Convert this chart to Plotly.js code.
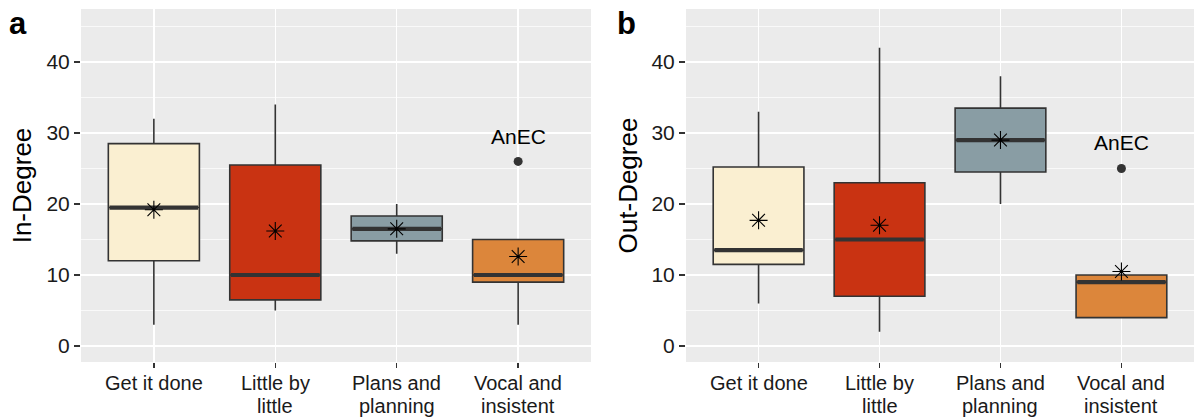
<!DOCTYPE html>
<html>
<head>
<meta charset="utf-8">
<script src="https://cdn.plot.ly/plotly-3.0.1.min.js"></script>
<style>html,body{margin:0;padding:0;background:#fff;}#chart{width:1194px;height:419px;}</style>
</head>
<body>
<div id="chart"></div>
<script>
// ---- data ----
const categories = ["Get it done", "Little by little", "Plans and planning", "Vocal and insistent"];
const tickLine1 = ["Get it done", "Little by", "Plans and", "Vocal and"];
const tickLine2 = ["", "little", "planning", "insistent"];
const colors = ["#FAEFD1", "#C93312", "#899DA4", "#DC863B"];

// In-Degree (panel a)
const inLower  = [3, 5, 13, 3];
const inQ1     = [12, 6.5, 14.8, 9];
const inMedian = [19.5, 10, 16.5, 10];
const inQ3     = [28.5, 25.5, 18.3, 15];
const inUpper  = [32, 34, 20, 15];
const inMean   = [19.2, 16.2, 16.5, 12.6];
const inOutlierCat = [3];
const inOutlierVal = [26];
const inLabel = "AnEC";
const inLabelY = 29.5;

// Out-Degree (panel b)
const outLower  = [6, 2, 20, 4];
const outQ1     = [11.5, 7, 24.5, 4];
const outMedian = [13.5, 15, 29, 9];
const outQ3     = [25.2, 23, 33.5, 10];
const outUpper  = [33, 42, 38, 10];
const outMean   = [17.7, 17, 29, 10.5];
const outOutlierCat = [3];
const outOutlierVal = [25];
const outLabel = "AnEC";
const outLabelY = 28.7;

// ---- build ----
const FONT = "'Liberation Sans', Arial, sans-serif";
const BW = 0.75;
const traces = [];

function panel(xa, ya, lower, q1, med, q3, upper, mean, oc, ov) {
  categories.forEach((c, i) => {
    traces.push({
      type: "box", xaxis: xa, yaxis: ya, x: [i],
      q1: [q1[i]], median: [med[i]], q3: [q3[i]],
      lowerfence: [lower[i]], upperfence: [upper[i]],
      width: BW, whiskerwidth: 0, boxpoints: false,
      fillcolor: colors[i], line: {color: "#333333", width: 1.6},
      showlegend: false, hoverinfo: "skip", name: c
    });
  });
  const mx = [], my = [];
  med.forEach((m, i) => { mx.push(i - BW / 2 + 0.01, i + BW / 2 - 0.01, null); my.push(m, m, null); });
  traces.push({type: "scatter", mode: "lines", xaxis: xa, yaxis: ya, x: mx, y: my,
    line: {color: "#333333", width: 4.2}, showlegend: false, hoverinfo: "skip"});
  traces.push({type: "scatter", mode: "markers", xaxis: xa, yaxis: ya, x: oc, y: ov,
    marker: {color: "#333333", size: 9, symbol: "circle"}, showlegend: false, hoverinfo: "skip"});
  traces.push({type: "scatter", mode: "markers", xaxis: xa, yaxis: ya,
    x: categories.map((c, i) => i), y: mean,
    marker: {symbol: "asterisk-open", size: 15, color: "#000000", line: {color: "#000000", width: 1.1}},
    showlegend: false, hoverinfo: "skip"});
}

panel("x", "y", inLower, inQ1, inMedian, inQ3, inUpper, inMean, inOutlierCat, inOutlierVal);
panel("x2", "y2", outLower, outQ1, outMedian, outQ3, outUpper, outMean, outOutlierCat, outOutlierVal);

const W = 1194, H = 419;
const yDom = [(H - 362) / H, (H - 9) / H];

function xaxis(dom, anchor) {
  return {
    domain: dom, range: [-0.6, 3.6], anchor: anchor,
    tickmode: "array", tickvals: [0, 1, 2, 3], ticktext: tickLine1,
    showticklabels: false,
    showgrid: true, gridcolor: "#ffffff", gridwidth: 1.5,
    zeroline: false, showline: false,
    ticks: "outside", ticklen: 5, tickwidth: 1.3, tickcolor: "#333333",
    fixedrange: true
  };
}
function yaxis(title, anchor, standoff) {
  return {
    domain: yDom, range: [-2.25, 47.46], anchor: anchor,
    tickmode: "array", tickvals: [0, 10, 20, 30, 40],
    showgrid: true, gridcolor: "#ffffff", gridwidth: 1.5,
    minor: {tickmode: "array", tickvals: [5, 15, 25, 35, 45], showgrid: true, gridcolor: "#ffffff", gridwidth: 0.7, ticks: ""},
    zeroline: false, showline: false,
    ticks: "outside", ticklen: 6, tickwidth: 1.3, tickcolor: "#333333",
    tickfont: {family: FONT, size: 21, color: "#1a1a1a"},
    title: {text: title, font: {family: FONT, size: 26, color: "#000000"}, standoff: standoff},
    fixedrange: true
  };
}

const annotations = [
  {xref: "paper", yref: "paper", x: 18 / W, y: (H - 24) / H, text: "<b>a</b>", showarrow: false,
    font: {family: FONT, size: 31, color: "#000"}, xanchor: "center", yanchor: "middle"},
  {xref: "paper", yref: "paper", x: 626 / W, y: (H - 24) / H, text: "<b>b</b>", showarrow: false,
    font: {family: FONT, size: 31, color: "#000"}, xanchor: "center", yanchor: "middle"},
  {xref: "x", yref: "y", x: inOutlierCat[0], y: inLabelY, text: inLabel, showarrow: false,
    font: {family: FONT, size: 21, color: "#000"}, xanchor: "center", yanchor: "middle"},
  {xref: "x2", yref: "y2", x: outOutlierCat[0], y: outLabelY, text: outLabel, showarrow: false,
    font: {family: FONT, size: 21, color: "#000"}, xanchor: "center", yanchor: "middle"}
];
["x", "x2"].forEach(xr => {
  tickLine1.forEach((t, i) => {
    annotations.push({xref: xr, yref: "paper", x: i, y: (H - 383) / H, text: t, showarrow: false,
      font: {family: FONT, size: 20, color: "#1a1a1a"}, xanchor: "center", yanchor: "middle", borderpad: 0});
  });
  tickLine2.forEach((t, i) => {
    if (!t) return;
    annotations.push({xref: xr, yref: "paper", x: i, y: (H - 405.5) / H, text: t, showarrow: false,
      font: {family: FONT, size: 20, color: "#1a1a1a"}, xanchor: "center", yanchor: "middle", borderpad: 0});
  });
});

const layout = {
  width: W, height: H,
  margin: {l: 0, r: 0, t: 0, b: 0},
  paper_bgcolor: "#ffffff", plot_bgcolor: "#EBEBEB",
  showlegend: false,
  boxmode: "overlay",
  xaxis: xaxis([81 / W, 591 / W], "y"),
  yaxis: yaxis("In-Degree", "x", 7),
  xaxis2: xaxis([686 / W, 1], "y2"),
  yaxis2: yaxis("Out-Degree", "x2", 6),
  annotations: annotations
};

Plotly.newPlot("chart", traces, layout, {displayModeBar: false, staticPlot: true});
</script>
</body>
</html>
